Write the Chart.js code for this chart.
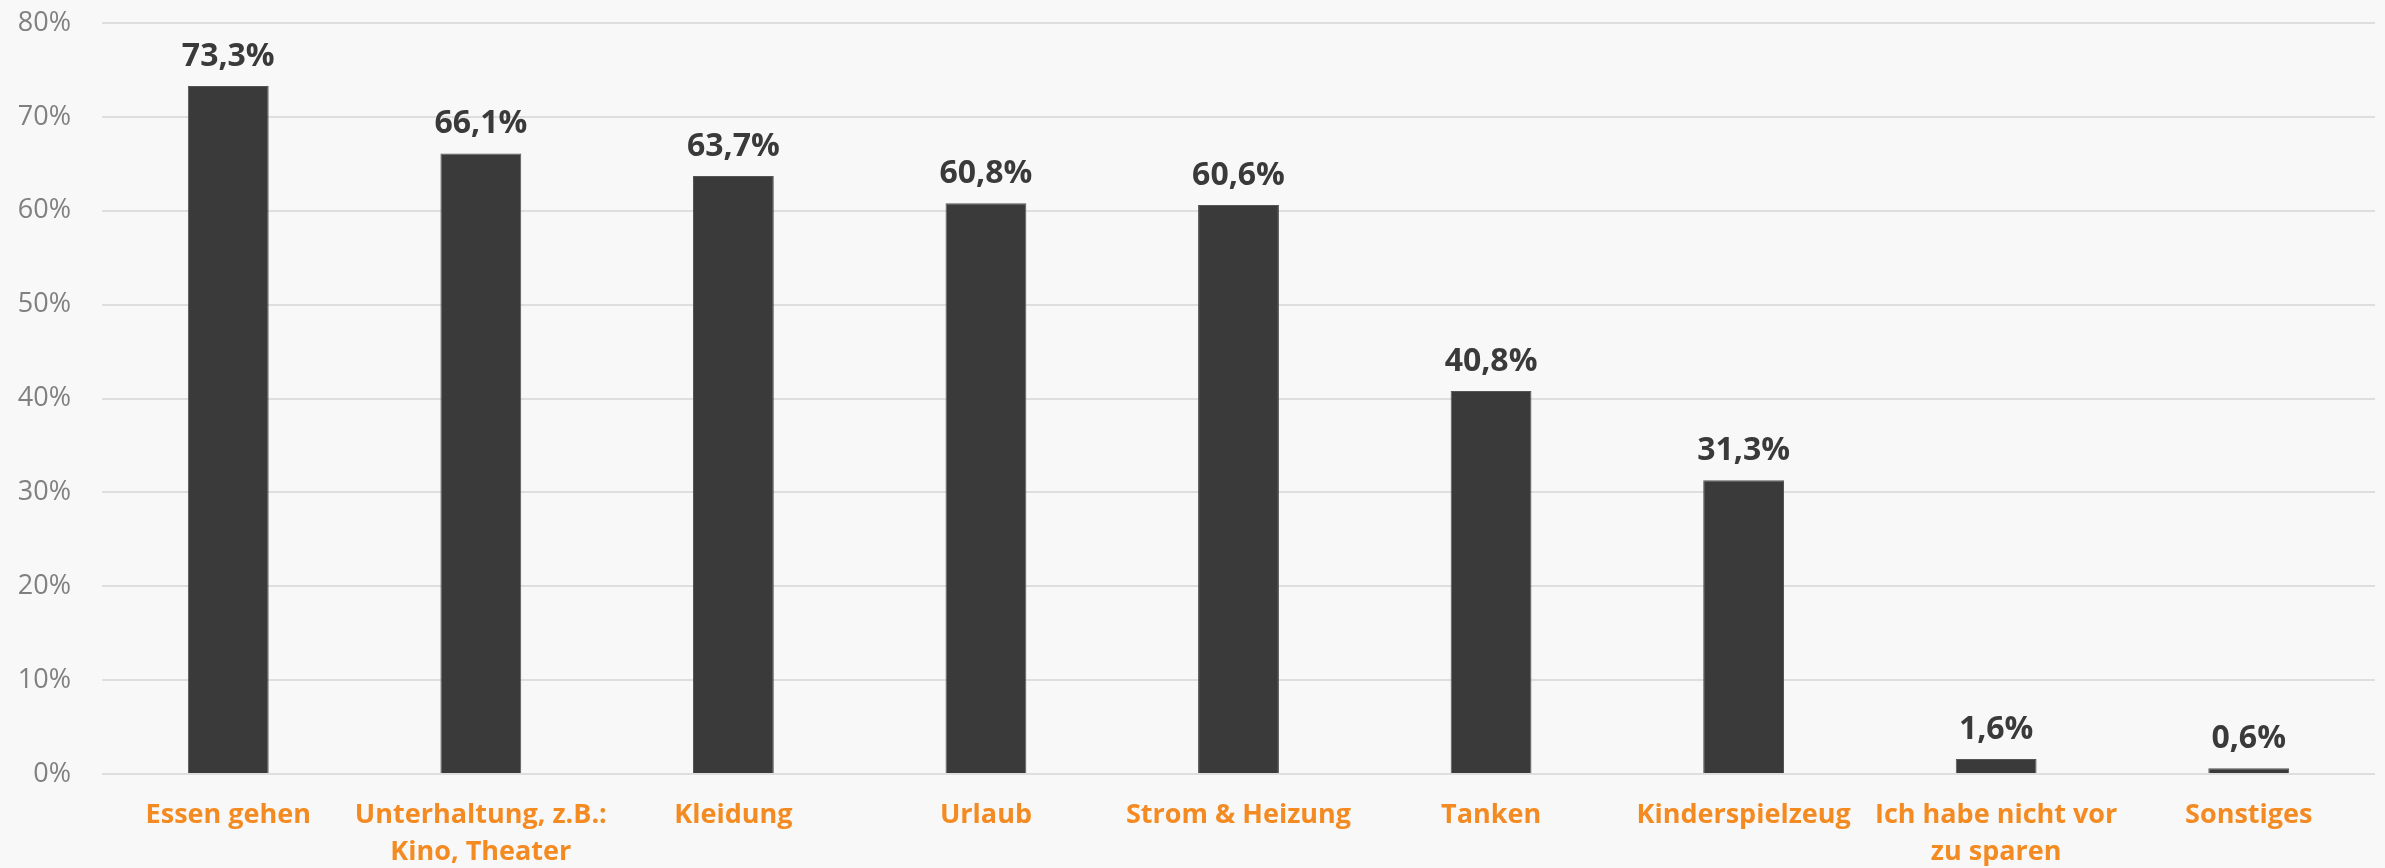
<!DOCTYPE html>
<html>
<head>
<meta charset="utf-8">
<script src="https://cdn.jsdelivr.net/npm/chart.js@4/dist/chart.umd.min.js"></script>
<style>
  html, body { margin: 0; padding: 0; background: #f8f8f8; }
  #wrap { width: 2385px; height: 868px; position: relative; }
</style>
</head>
<body>
<div id="wrap"><canvas id="bar-chart"></canvas></div>
<script>
// categories (multi-line labels as arrays)
var aCategories = [
    "Essen gehen",
    ["Unterhaltung, z.B.:", "Kino, Theater"],
    "Kleidung",
    "Urlaub",
    "Strom & Heizung",
    "Tanken",
    "Kinderspielzeug",
    ["Ich habe nicht vor", "zu sparen"],
    "Sonstiges"
];
// share in percent
var aValues = [73.3, 66.1, 63.7, 60.8, 60.6, 40.8, 31.3, 1.6, 0.6];
// y axis ticks
var aTicks = [0, 10, 20, 30, 40, 50, 60, 70, 80];

var sDark = "#3a3a3a";
var sOrange = "#f38b22";

// value labels above the bars
var valueLabels = {
    id: "valueLabels",
    afterDatasetsDraw: function (chart) {
        var ctx = chart.ctx;
        var meta = chart.getDatasetMeta(0);
        ctx.save();
        ctx.font = "bold 32px 'Open Sans'";
        ctx.fillStyle = sDark;
        ctx.textAlign = "center";
        ctx.textBaseline = "alphabetic";
        meta.data.forEach(function (bar, i) {
            var txt = aValues[i].toFixed(1).replace(".", ",") + "%";
            ctx.fillText(txt, bar.x, bar.y - 20);
        });
        ctx.restore();
    }
};

new Chart(document.getElementById("bar-chart"), {
    type: "bar",
    data: {
        labels: aCategories,
        datasets: [{
            data: aValues,
            backgroundColor: sDark,
            borderColor: "#555555",
            borderWidth: 1,
            barPercentage: 0.32,
            categoryPercentage: 1
        }]
    },
    plugins: [valueLabels],
    options: {
        responsive: true,
        maintainAspectRatio: false,
        animation: false,
        layout: { padding: { top: 23, right: 10, left: 0, bottom: 0 } },
        plugins: {
            legend: { display: false },
            tooltip: { enabled: false }
        },
        scales: {
            x: {
                grid: { display: false, drawTicks: false },
                border: { display: false },
                ticks: {
                    color: sOrange,
                    font: { family: "'Open Sans'", size: 27, weight: "bold", lineHeight: 1.4 },
                    maxRotation: 0,
                    autoSkip: false,
                    padding: 22
                },
                afterFit: function (scale) {
                    scale.height = 94;
                    scale.paddingLeft = 0;
                    scale.paddingRight = 0;
                }
            },
            y: {
                min: 0,
                max: 80,
                afterBuildTicks: function (scale) {
                    scale.ticks = aTicks.map(function (v) { return { value: v }; });
                },
                grid: { color: "#dedede", lineWidth: 2, drawTicks: false },
                border: { display: false },
                ticks: {
                    color: "#808080",
                    font: { family: "'Open Sans'", size: 27 },
                    padding: 31,
                    callback: function (v) { return v + "%"; }
                },
                afterFit: function (scale) {
                    scale.width = 102;
                    scale.paddingTop = 0;
                    scale.paddingBottom = 0;
                }
            }
        }
    }
});
</script>
</body>
</html>
